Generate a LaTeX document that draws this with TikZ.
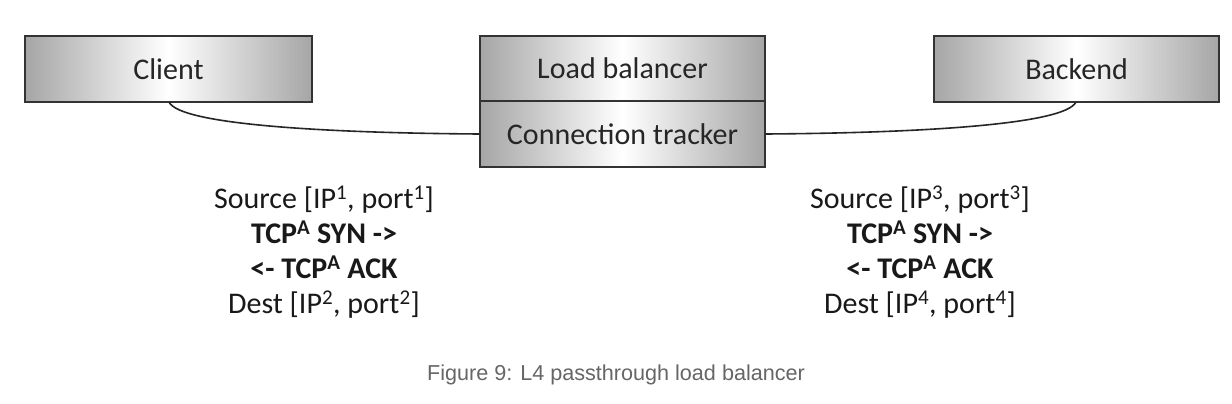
\documentclass[tikz,border=0pt]{standalone}
\usepackage{fontspec}
\setmainfont{Carlito}
\newfontfamily\capfont{Liberation Sans}
\begin{document}
\begin{tikzpicture}[x=1pt,y=-1pt,
  boxstyle/.style={draw=black!80, line width=1.3pt, inner sep=0pt,
    left color=black!35, right color=black!35, middle color=white,
    font=\fontsize{30}{34}\selectfont, text=black!85},
  link/.style={draw=black!85, line width=1.6pt},
  info/.style={align=center, font=\fontsize{30}{35}\selectfont, text=black!90, inner sep=0pt, anchor=north},
  caption/.style={font=\capfont\fontsize{21.6}{25}\selectfont, text=black!60, inner sep=0pt}]
\useasboundingbox (0,0) rectangle (1232,404);
\fill[white] (0,0) rectangle (1232,404);
\node[boxstyle, minimum width=287pt, minimum height=66pt] (client) at (168.5,69) {Client};
\node[boxstyle, minimum width=285pt, minimum height=65pt] (lb) at (622.5,68.5) {Load balancer};
\node[boxstyle, minimum width=285pt, minimum height=66pt] (ct) at (622.5,134) {Connection tracker};
\node[boxstyle, minimum width=285pt, minimum height=66pt] (backend) at (1076.5,69) {Backend};
\coordinate (cl) at (169,102);
\coordinate (bk) at (1076,102);
\draw[link] (cl) .. controls (180,125) and (330,133) .. (ct.west);
\draw[link] (bk) .. controls (1065,125) and (915,133) .. (ct.east);
\node[info] (left) at (324,186) {Source [IP\textsuperscript{1}, port\textsuperscript{1}]\\
\textbf{TCP\textsuperscript{A} SYN ->}\\
\textbf{<- TCP\textsuperscript{A} ACK}\\
Dest [IP\textsuperscript{2}, port\textsuperscript{2}]};
\node[info] (right) at (920,186) {Source [IP\textsuperscript{3}, port\textsuperscript{3}]\\
\textbf{TCP\textsuperscript{A} SYN ->}\\
\textbf{<- TCP\textsuperscript{A} ACK}\\
Dest [IP\textsuperscript{4}, port\textsuperscript{4}]};
\node[caption] (cap) at (616,375) {Figure 9: L4 passthrough load balancer};
\end{tikzpicture}
\end{document}
